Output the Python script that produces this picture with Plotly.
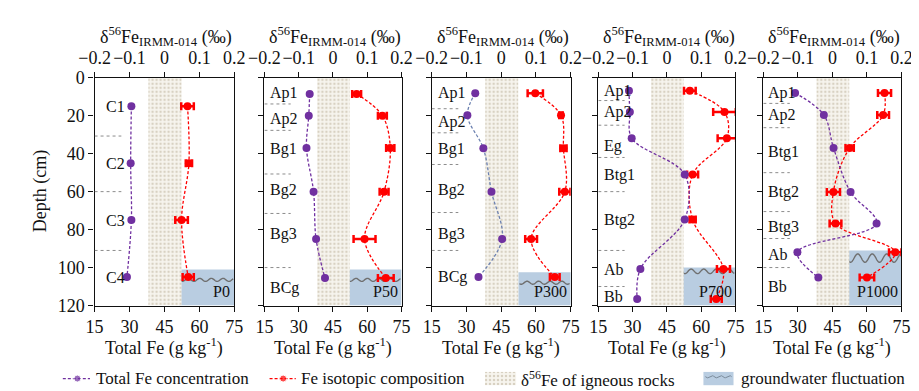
import numpy as np
import plotly.graph_objects as go

W, H = 919, 391

# ---------------- data ----------------
profiles = ["P0", "P50", "P300", "P700", "P1000"]

p0_depth = [15, 45, 75, 105]
p0_fe = [30.8, 30.5, 30.8, 28.9]
p0_d56 = [0.066, 0.070, 0.049, 0.068]
p0_err = [0.018, 0.009, 0.018, 0.016]
p0_hz = ["C1", "C2", "C3", "C4"]
p0_hz_depth = [15, 45, 75, 105]
p0_sep = [30.7, 60, 91]
p0_gw = [101, 51.4, 106.5]  # top depth, left Fe, wave depth

p50_depth = [8.5, 20, 37, 60, 85, 105.5]
p50_fe = [34.8, 34.4, 33.4, 36.5, 37.6, 41.5]
p50_d56 = [0.069, 0.144, 0.167, 0.149, 0.092, 0.154]
p50_err = [0.013, 0.013, 0.012, 0.013, 0.032, 0.023]
p50_hz = ["Ap1", "Ap2", "Bg1", "Bg2", "Bg3", "BCg"]
p50_hz_depth = [8, 21.5, 37.7, 59.3, 82.3, 111]
p50_sep = [13.8, 27.7, 50.7, 71.5, 100]
p50_gw = [101, 51.3, 106.5]

p300_depth = [8.2, 19.8, 37.2, 60, 85, 105]
p300_fe = [33.8, 30.4, 37.3, 40.8, 45.4, 35.2]
p300_d56 = [0.098, 0.172, 0.179, 0.183, 0.086, 0.154]
p300_err = [0.022, 0.005, 0.009, 0.016, 0.017, 0.014]
p300_hz = ["Ap1", "Ap2", "Bg1", "Bg2", "Bg3", "BCg"]
p300_hz_depth = [8, 23.5, 37.7, 59.3, 82.3, 105]
p300_sep = [16.3, 29, 45.7, 71, 91]
p300_gw = [102.5, 52.4, 108]

p700_depth = [6.8, 18, 31.8, 51, 74.7, 100.7, 116.6]
p700_fe = [28.4, 28.8, 29.6, 52.8, 52.8, 33.4, 32.0]
p700_d56 = [0.067, 0.168, 0.175, 0.075, 0.075, 0.165, 0.144]
p700_err = [0.017, 0.033, 0.027, 0.016, 0.009, 0.019, 0.016]
p700_hz = ["Ap1", "Ap2", "Eg", "Btg1", "Btg2", "Ab", "Bb"]
p700_hz_depth = [7, 18, 36, 51, 75, 101, 115]
p700_sep = [12, 25, 42, 60, 91, 110]
p700_gw = [100, 51.5, 102]

p1000_depth = [8, 19.6, 37, 60.2, 76.8, 92, 105.2]
p1000_fe = [28.8, 41.3, 45.5, 52.9, 64.2, 29.8, 38.9]
p1000_d56 = [0.151, 0.147, 0.050, 0.003, 0.009, 0.182, 0.100]
p1000_err = [0.019, 0.017, 0.012, 0.019, 0.017, 0.018, 0.021]
p1000_hz = ["Ap1", "Ap2", "Btg1", "Btg2", "Btg3", "Ab", "Bb"]
p1000_hz_depth = [8, 19.5, 39, 60, 78.5, 93, 110]
p1000_sep = [13.5, 26.3, 50, 70.5, 84.7, 100]
p1000_gw = [91, 51.3, 95]

igneous_band = [-0.046, 0.049]   # δ56Fe range of igneous rocks

fe_ticks = [15, 30, 45, 60, 75]
d56_ticks = [-0.2, -0.1, 0, 0.1, 0.2]
depth_ticks = [0, 20, 40, 60, 80, 100, 120]

# ---------------- styling / layout ----------------
FONT = "Liberation Serif, Times New Roman, serif"
TXT = "#111"
PURPLE = "#7030a0"
RED = "#ff0000"
GW_FILL = "#b9cde1"
panel_px = [(72.7, 216.7), (247.7, 389.0), (420.0, 563.3), (591.7, 733.0), (761.7, 904.0)]
plot_top, plot_bot = 63, 303
ydom = [(H - plot_bot) / H, (H - plot_top) / H]
purple_line = [PURPLE, PURPLE, "#6b80b0", PURPLE, PURPLE]
hz_x = [18.9, 16.6, 16.8, 16.4, 16.3]
wave_amp = [0.8, 0.8, 0.8, 1.2, 2.2]
wave_period = [5.0, 5.0, 5.0, 5.5, 6.3]
SEP_END = 26.5


def F(size):
    return dict(family=FONT, size=size, color=TXT)


panels = [
    dict(depth=p0_depth, fe=p0_fe, d56=p0_d56, err=p0_err, hz=p0_hz, hzd=p0_hz_depth, sep=p0_sep, gw=p0_gw),
    dict(depth=p50_depth, fe=p50_fe, d56=p50_d56, err=p50_err, hz=p50_hz, hzd=p50_hz_depth, sep=p50_sep, gw=p50_gw),
    dict(depth=p300_depth, fe=p300_fe, d56=p300_d56, err=p300_err, hz=p300_hz, hzd=p300_hz_depth, sep=p300_sep, gw=p300_gw),
    dict(depth=p700_depth, fe=p700_fe, d56=p700_d56, err=p700_err, hz=p700_hz, hzd=p700_hz_depth, sep=p700_sep, gw=p700_gw),
    dict(depth=p1000_depth, fe=p1000_fe, d56=p1000_d56, err=p1000_err, hz=p1000_hz, hzd=p1000_hz_depth, sep=p1000_sep, gw=p1000_gw),
]

fig = go.Figure()
layout = dict(
    width=W, height=H, margin=dict(l=0, r=0, t=0, b=0),
    paper_bgcolor="white", plot_bgcolor="rgba(0,0,0,0)", showlegend=False,
    font=F(17),
)
annotations = []
shapes = []


def ax_name(kind, n):
    return kind + "axis" + ("" if n == 1 else str(n))


def ax_ref(kind, n):
    return kind + ("" if n == 1 else str(n))


for k, p in enumerate(panels):
    # base axis = δ56Fe (top), overlay axis = Total Fe (bottom)
    xd, xf, yy = 2 * k + 1, 2 * k + 2, k + 1
    xdr, xfr, yr = ax_ref("x", xd), ax_ref("x", xf), ax_ref("y", yy)
    l, r = panel_px[k]
    axis_common = dict(showline=True, linecolor="#111", linewidth=1.3, ticks="outside",
                       ticklen=5, tickcolor="#111", showgrid=False, zeroline=False,
                       tickangle=0, tickfont=F(18))
    layout[ax_name("x", xd)] = dict(domain=[l / W, r / W], side="top", anchor=yr, range=[-0.2, 0.2],
                                    tickmode="array", tickvals=d56_ticks, **axis_common)
    layout[ax_name("x", xf)] = dict(overlaying=xdr, side="bottom", anchor=yr, range=[15, 75],
                                    tickmode="array", tickvals=fe_ticks, **axis_common)
    layout[ax_name("y", yy)] = dict(domain=ydom, anchor=xdr, range=[120, 0], tickmode="array",
                                    tickvals=depth_ticks, mirror=True, showticklabels=(k == 0),
                                    **axis_common)

    # groundwater box + wave (shapes below traces)
    gtop, gleft, gwave = p["gw"]
    shapes.append(dict(type="rect", xref=xfr, yref=yr, x0=gleft, x1=75, y0=gtop, y1=120,
                       fillcolor=GW_FILL, line=dict(width=0), layer="below"))
    wx = np.linspace(gleft + 0.5, 74.5, 120)
    wy = gwave + wave_amp[k] * np.sin(2 * np.pi * (wx - gleft) / wave_period[k])
    path = "M " + " L ".join(f"{a:.3f},{b:.3f}" for a, b in zip(wx, wy))
    shapes.append(dict(type="path", xref=xfr, yref=yr, path=path, layer="below",
                       line=dict(color="#6f6f6f", width=1.4)))
    annotations.append(dict(x=74.2, y=112.8, xref=xfr, yref=yr, text=profiles[k], showarrow=False,
                            xanchor="right", yanchor="middle", font=F(16)))

    # igneous rock band (δ axis)
    b0, b1 = igneous_band
    fig.add_trace(go.Scatter(x=[b0, b1, b1, b0, b0], y=[0, 0, 120, 120, 0], xaxis=xdr, yaxis=yr,
                             mode="lines", line=dict(width=0), fill="toself",
                             fillcolor="#f7f4ee",
                             fillpattern=dict(shape=".", fgcolor="#b8ad95", bgcolor="#f7f4ee",
                                              size=4, solidity=0.3),
                             hoverinfo="skip"))

    # horizon separators and labels
    for s in p["sep"]:
        shapes.append(dict(type="line", xref=xfr, yref=yr, x0=15, x1=SEP_END, y0=s, y1=s,
                           line=dict(color="#8c8c8c", width=1, dash="dot")))
    for t, d in zip(p["hz"], p["hzd"]):
        annotations.append(dict(x=hz_x[k], y=d, xref=xfr, yref=yr, text=t, showarrow=False,
                                xanchor="left", yanchor="middle", font=F(16)))

    # δ56Fe
    fig.add_trace(go.Scatter(x=p["d56"], y=p["depth"], xaxis=xdr, yaxis=yr, mode="lines+markers",
                             line=dict(color=RED, width=1.3, dash="3px,2px", shape="spline"),
                             marker=dict(color=RED, size=8), hoverinfo="skip",
                             error_x=dict(type="data", array=p["err"], color=RED, thickness=2.5, width=4)))
    # Total Fe
    fig.add_trace(go.Scatter(x=p["fe"], y=p["depth"], xaxis=xfr, yaxis=yr, mode="lines+markers",
                             line=dict(color=purple_line[k], width=1.3, dash="3px,2px", shape="spline"),
                             marker=dict(color=PURPLE, size=8), hoverinfo="skip"))

    cx = (l + r) / 2
    annotations.append(dict(x=(cx + 2) / W, y=(H - 20) / H, xref="paper", yref="paper", text=
                            "δ<sup>56</sup>Fe<sub>IRMM-014</sub> (‰)", showarrow=False,
                            xanchor="center", yanchor="middle", font=F(18)))
    annotations.append(dict(x=cx / W, y=(H - 347) / H, xref="paper", yref="paper",
                            text="Total Fe (g kg<sup>-1</sup>)", showarrow=False,
                            xanchor="center", yanchor="middle", font=F(18)))

annotations.append(dict(x=17 / W, y=(H - 183) / H, xref="paper", yref="paper", text="Depth (cm)",
                        textangle=-90, showarrow=False, xanchor="center", yanchor="middle",
                        font=F(18)))

# ---------------- legend (pixel overlay axis) ----------------
layout["xaxis11"] = dict(domain=[0, 1], anchor="y6", range=[0, W], visible=False, fixedrange=True)
layout["yaxis6"] = dict(domain=[0, 1], anchor="x11", range=[H, 0], visible=False, fixedrange=True)
LY = 380
fig.add_trace(go.Scatter(x=[40, 55, 68], y=[LY, LY, LY], xaxis="x11", yaxis="y6", mode="lines+markers",
                         line=dict(color=PURPLE, width=1.3, dash="3px,2px"),
                         marker=dict(color=PURPLE, size=[0, 7, 0]), hoverinfo="skip"))
fig.add_trace(go.Scatter(x=[253, 267, 280], y=[LY, LY, LY], xaxis="x11", yaxis="y6", mode="lines+markers",
                         line=dict(color=RED, width=1.3, dash="3px,2px"),
                         marker=dict(color=RED, size=[0, 7, 0]), hoverinfo="skip"))
fig.add_trace(go.Scatter(x=[475, 507, 507, 475, 475], y=[373, 373, 387, 387, 373], xaxis="x11", yaxis="y6",
                         mode="lines", line=dict(width=0), fill="toself", fillcolor="#f7f4ee",
                         fillpattern=dict(shape=".", fgcolor="#b8ad95", bgcolor="#f7f4ee", size=4, solidity=0.3),
                         hoverinfo="skip"))
fig.add_trace(go.Scatter(x=[700, 731, 731, 700, 700], y=[373, 373, 387, 387, 373], xaxis="x11", yaxis="y6",
                         mode="lines", line=dict(width=0), fill="toself", fillcolor=GW_FILL,
                         hoverinfo="skip"))
lwx = np.linspace(702, 729, 40)
fig.add_trace(go.Scatter(x=lwx, y=378 + 1.2 * np.sin(2 * np.pi * (lwx - 702) / 9), xaxis="x11", yaxis="y6",
                         mode="lines", line=dict(color="#7a8a9a", width=1), hoverinfo="skip"))
for tx, t in [(72, "Total Fe concentration"), (283, "Fe isotopic composition"),
              (510, "δ<sup>56</sup>Fe of igneous rocks"), (737, "groundwater fluctuation")]:
    annotations.append(dict(x=tx / W, y=(H - LY) / H, xref="paper", yref="paper", text=t,
                            showarrow=False, xanchor="left", yanchor="middle", font=F(17)))

layout["annotations"] = annotations
layout["shapes"] = shapes
fig.update_layout(**layout)
fig.write_html("out.html")
